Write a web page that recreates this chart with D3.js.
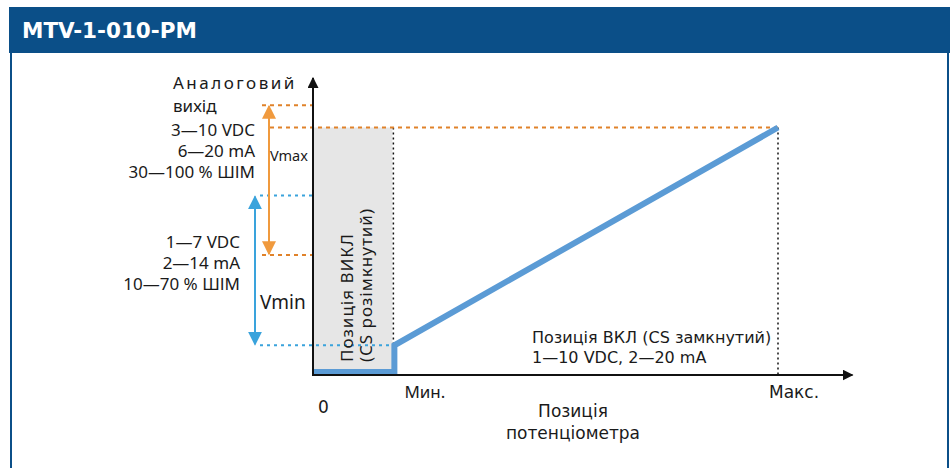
<!DOCTYPE html>
<html>
<head>
<meta charset="utf-8">
<script src="https://cdn.jsdelivr.net/npm/d3@7"></script>
<style>
  body { margin: 0; background: #fff; }
  .lbl { font-family: 'Noto Sans', sans-serif; font-size: 17px; fill: #1a1a1a; }
  .vd { font-family: 'DejaVu Sans', Verdana, sans-serif; font-size: 16px; fill: #1a1a1a; }
</style>
</head>
<body>
<div id="chart"></div>
<script>
// schematic values: potentiometer position (0..100 = Макс.), output (0..10 = full scale)
const title = 'MTV-1-010-PM'
const posTicks = [ 0, 17.5, 100 ]
const posTickLabels = [ '0', 'Мин.', 'Макс.' ]
const linePos = [ 0, 17.5, 17.5, 100 ]
const lineOut = [ 0.12, 0.12, 1.2, 10 ]
const vmaxRange = [ 4.85, 10.9 ]
const vminRange = [ 1.2, 7.25 ]
const vmaxLabels = [ '3—10 VDC', '6—20 mA', '30—100 % ШІМ' ]
const vminLabels = [ '1—7 VDC', '2—14 mA', '10—70 % ШІМ' ]
const offLabels = [ 'Позиція ВИКЛ', '(CS розімкнутий)' ]
const onLabels = [ 'Позиція ВКЛ (CS замкнутий)', '1—10 VDC, 2—20 mA' ]
const yTitle = [ 'Аналоговий', 'вихід' ]
const xTitle = [ 'Позиція', 'потенціометра' ]

const width = 952
const height = 468
const ORANGE = '#f09a3e'
const ORANGE_DOT = '#e0822a'
const BLUE = '#3aa3dc'
const LINE = '#5b9bd5'

const x = d3.scaleLinear().domain([ 0, 100 ]).range([ 313, 778 ])
const y = d3.scaleLinear().domain([ 0, 12 ]).range([ 375, 78 ])

const svg = d3.select('#chart').append('svg')
  .attr('width', width)
  .attr('height', height)

const defs = svg.append('defs')
function marker (id, color, size) {
  defs.append('marker')
    .attr('id', id)
    .attr('viewBox', '0 0 10 10')
    .attr('refX', 9).attr('refY', 5)
    .attr('markerWidth', size).attr('markerHeight', size)
    .attr('markerUnits', 'userSpaceOnUse')
    .attr('orient', 'auto-start-reverse')
    .append('path')
    .attr('d', 'M0,0 L10,5 L0,10 z')
    .attr('fill', color)
}
marker('ar-black', '#111', 11)
marker('ar-orange', ORANGE, 14)
marker('ar-blue', BLUE, 14)

// frame
svg.append('rect').attr('x', 9).attr('y', 7).attr('width', 941).attr('height', 46).attr('fill', '#0b4f88')
svg.append('rect').attr('x', 10).attr('y', 53).attr('width', 2).attr('height', height - 53).attr('fill', '#0b4f88')
svg.append('rect').attr('x', 947).attr('y', 53).attr('width', 2).attr('height', height - 53).attr('fill', '#0b4f88')
svg.append('text')
  .attr('x', 22).attr('y', 38)
  .attr('fill', '#fff')
  .style('font-family', "'DejaVu Sans', Verdana, sans-serif")
  .style('font-weight', 'bold')
  .style('font-size', '21.5px')
  .text(title)

// off-zone rectangle
svg.append('rect')
  .attr('x', x(0)).attr('y', y(10))
  .attr('width', x(posTicks[1]) - x(0) - 2)
  .attr('height', y(0) - y(10))
  .attr('fill', '#e6e6e6')

// guide lines
const dotted = (x1, y1, x2, y2, color, dash, w) => svg.append('line')
  .attr('x1', x1).attr('y1', y1).attr('x2', x2).attr('y2', y2)
  .attr('stroke', color).attr('stroke-width', w || 2)
  .attr('stroke-dasharray', dash)

dotted(x(posTicks[1]) - 1, y(10), x(posTicks[1]) - 1, y(lineOut[2]), '#111', '2,3', 1.5)
dotted(x(100), y(10), x(100), y(0), '#111', '2,3', 1.5)
dotted(270, y(10), x(100), y(10), ORANGE_DOT, '4,4')
dotted(262, y(vmaxRange[1]), x(0), y(vmaxRange[1]), ORANGE_DOT, '4,4')
dotted(262, y(vmaxRange[0]), x(0), y(vmaxRange[0]), ORANGE_DOT, '4,4')
dotted(260, y(vminRange[1]), x(0), y(vminRange[1]), BLUE, '3,4')
dotted(260, y(vminRange[0]), x(posTicks[1]), y(vminRange[0]), BLUE, '3,4')

// range arrows
svg.append('line')
  .attr('x1', 269).attr('x2', 269)
  .attr('y1', y(vmaxRange[1]) + 1).attr('y2', y(vmaxRange[0]) - 1)
  .attr('stroke', ORANGE).attr('stroke-width', 2)
  .attr('marker-start', 'url(#ar-orange)').attr('marker-end', 'url(#ar-orange)')
svg.append('line')
  .attr('x1', 255).attr('x2', 255)
  .attr('y1', y(vminRange[1]) + 1).attr('y2', y(vminRange[0]) - 1)
  .attr('stroke', BLUE).attr('stroke-width', 2)
  .attr('marker-start', 'url(#ar-blue)').attr('marker-end', 'url(#ar-blue)')

// output line
const line = d3.line().x(d => x(d[0])).y(d => y(d[1]))
svg.append('path')
  .datum(linePos.map((p, i) => [ p, lineOut[i] ]))
  .attr('d', line)
  .attr('fill', 'none')
  .attr('stroke', LINE)
  .attr('stroke-width', 6)

// axes
svg.append('line')
  .attr('x1', x(0)).attr('y1', y(0) + 1).attr('x2', x(0)).attr('y2', y(12))
  .attr('stroke', '#111').attr('stroke-width', 2)
  .attr('marker-end', 'url(#ar-black)')
svg.append('line')
  .attr('x1', x(0) - 1).attr('y1', y(0)).attr('x2', x(116)).attr('y2', y(0))
  .attr('stroke', '#111').attr('stroke-width', 2)
  .attr('marker-end', 'url(#ar-black)')

// axis labels
svg.append('text').attr('class', 'lbl').attr('x', 173).attr('y', 89)
  .style('letter-spacing', '2.5px').text(yTitle[0])
svg.append('text').attr('class', 'lbl').attr('x', 173).attr('y', 112).text(yTitle[1])

vmaxLabels.forEach((t, i) => svg.append('text').attr('class', 'lbl')
  .attr('x', 255).attr('y', 136 + i * 21).attr('text-anchor', 'end').text(t))
vminLabels.forEach((t, i) => svg.append('text').attr('class', 'lbl')
  .attr('x', 240).attr('y', 248 + i * 21).attr('text-anchor', 'end').text(t))

svg.append('text').attr('class', 'lbl').attr('x', 270).attr('y', 161)
  .style('font-size', '14.5px').text('Vmax')
svg.append('text').attr('class', 'lbl').attr('x', 260).attr('y', 309)
  .style('font-size', '19px').text('Vmin')

offLabels.forEach((t, i) => svg.append('text').attr('class', 'lbl')
  .attr('transform', 'translate(' + (353 + i * 19) + ',362) rotate(-90)')
  .style('letter-spacing', '1px')
  .text(t))

onLabels.forEach((t, i) => svg.append('text').attr('class', 'vd')
  .attr('x', 532).attr('y', 343 + i * 20).text(t))

svg.append('text').attr('class', 'vd').attr('x', x(posTicks[0]) + 5).attr('y', 413)
  .style('font-size', '17px').text(posTickLabels[0])
svg.append('text').attr('class', 'lbl').attr('x', x(posTicks[1]) + 10).attr('y', 398)
  .text(posTickLabels[1])
svg.append('text').attr('class', 'vd').attr('x', x(posTicks[2]) - 9).attr('y', 398)
  .style('font-size', '17px').text(posTickLabels[2])

xTitle.forEach((t, i) => svg.append('text').attr('class', 'vd')
  .attr('x', 573).attr('y', 417 + i * 22).attr('text-anchor', 'middle')
  .style('font-size', '17px').text(t))
</script>
</body>
</html>
